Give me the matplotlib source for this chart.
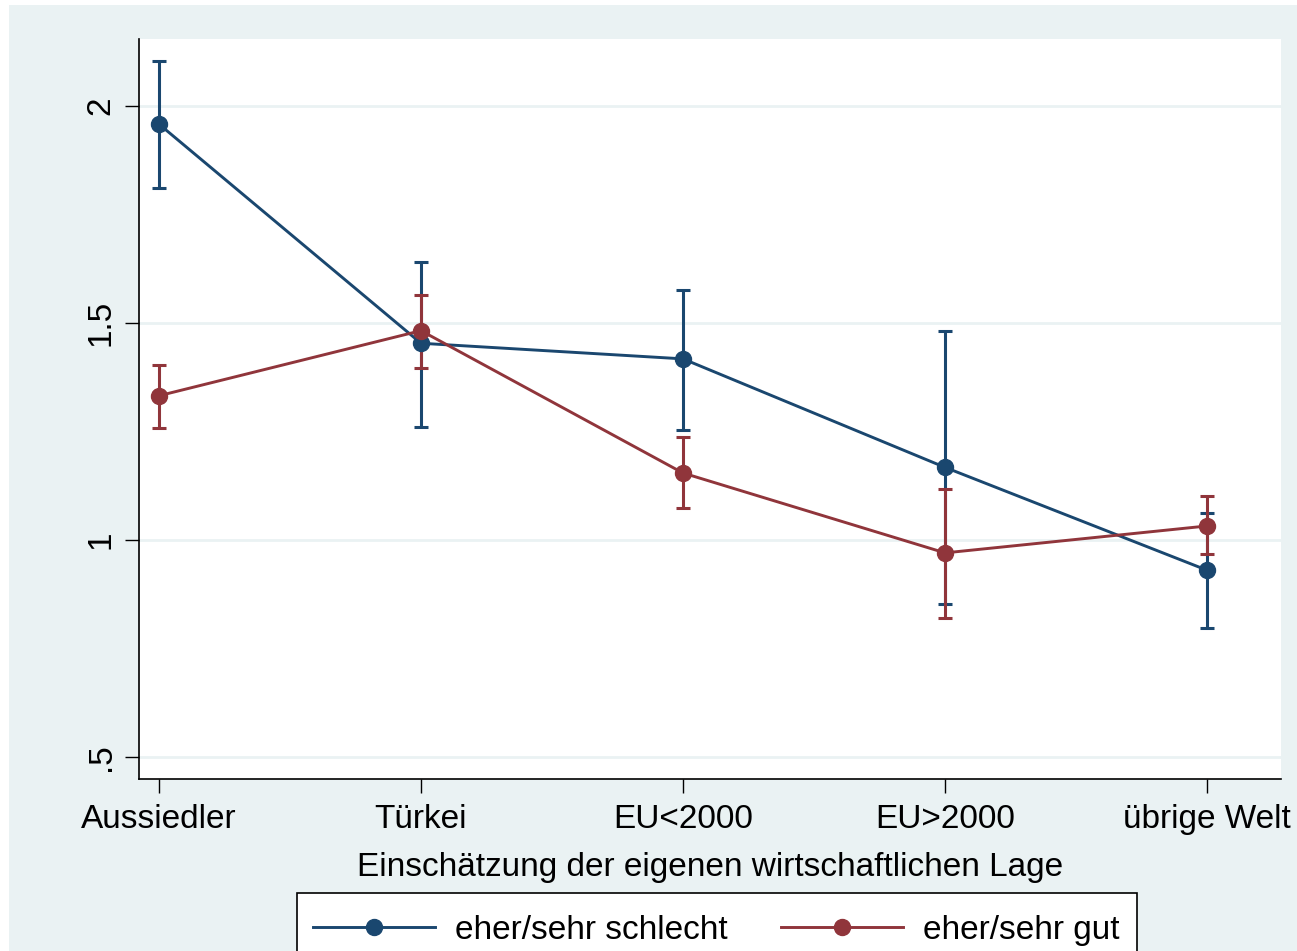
import matplotlib
matplotlib.use("Agg")
import matplotlib.pyplot as plt
from matplotlib.patches import Rectangle
import numpy as np

plt.rcParams['font.family'] = ['Liberation Sans', 'DejaVu Sans']

# Herkunftsgruppen und geschätzte Mittelwerte mit Konfidenzintervallen
gruppen = ["Aussiedler", "Türkei", "EU<2000", "EU>2000", "übrige Welt"]

schlecht_mean = [1.958, 1.453, 1.417, 1.167, 0.930]
schlecht_lo = [1.810, 1.261, 1.253, 0.853, 0.797]
schlecht_hi = [2.104, 1.641, 1.576, 1.482, 1.062]

gut_mean = [1.332, 1.482, 1.154, 0.970, 1.032]
gut_lo = [1.258, 1.396, 1.074, 0.820, 0.968]
gut_hi = [1.402, 1.565, 1.237, 1.118, 1.101]

y_ticks = [0.5, 1, 1.5, 2]
y_ticklabels = [".5", "1", "1.5", "2"]

BLAU = "#1A476F"
ROT = "#90353B"
HINTERGRUND = "#EAF2F3"
FS = 24

W, H = 1297, 951
fig = plt.figure(figsize=(W / 100, H / 100), dpi=100)
fig.patch.set_facecolor("white")
fig.patches.append(Rectangle((9 / W, 0), 1, 1 - 5 / H, transform=fig.transFigure,
                             facecolor=HINTERGRUND, edgecolor="none", zorder=-10))

ax = fig.add_axes([139 / W, 1 - 779 / H, (1281 - 139) / W, (779 - 39) / H])
ax.set_facecolor("white")

x = np.arange(1, len(gruppen) + 1)


def zeichne(mean, lo, hi, farbe, name):
    mean = np.array(mean)
    err = [mean - np.array(lo), np.array(hi) - mean]
    ax.errorbar(x, mean, yerr=err, fmt="none", ecolor=farbe, elinewidth=2.2,
                capsize=5.2, capthick=2.2, zorder=3)
    ax.plot(x, mean, color=farbe, lw=2.1, marker="o", ms=11.5,
            label=name, zorder=4)


zeichne(schlecht_mean, schlecht_lo, schlecht_hi, BLAU, "eher/sehr schlecht")
zeichne(gut_mean, gut_lo, gut_hi, ROT, "eher/sehr gut")

ax.set_xlim(0.924, 5.282)
ax.set_ylim(0.449, 2.154)

ax.set_yticks(y_ticks)
ax.set_yticklabels(y_ticklabels, rotation=90, va="center")
ax.set_xticks(x)
ax.set_xticklabels(gruppen)
ax.tick_params(axis="both", labelsize=FS, length=10, width=1, pad=8, colors="black")
ax.tick_params(axis="y", pad=6)

for y in y_ticks:
    ax.axhline(y, color=HINTERGRUND, lw=2, zorder=1)

for s in ["top", "right"]:
    ax.spines[s].set_visible(False)
for s in ["left", "bottom"]:
    ax.spines[s].set_linewidth(1.2)

ax.set_xlabel("Einschätzung der eigenen wirtschaftlichen Lage", fontsize=FS, labelpad=12.5)

# Legendenrahmen separat, unten angeschnitten
fig.patches.append(Rectangle((297 / W, -0.05), (1137 - 297) / W, 0.05 + 1 - 893 / H,
                             transform=fig.transFigure, facecolor="white",
                             edgecolor="black", lw=1.2, zorder=1))
fig.legend(loc="upper left", bbox_to_anchor=(297 / W, 1 - 899 / H),
           ncol=2, fontsize=FS, frameon=False,
           handlelength=3.66, handletextpad=0.6, columnspacing=1.6,
           borderpad=0.48, borderaxespad=0)

fig.savefig("out.png", dpi=100, facecolor=fig.get_facecolor())
